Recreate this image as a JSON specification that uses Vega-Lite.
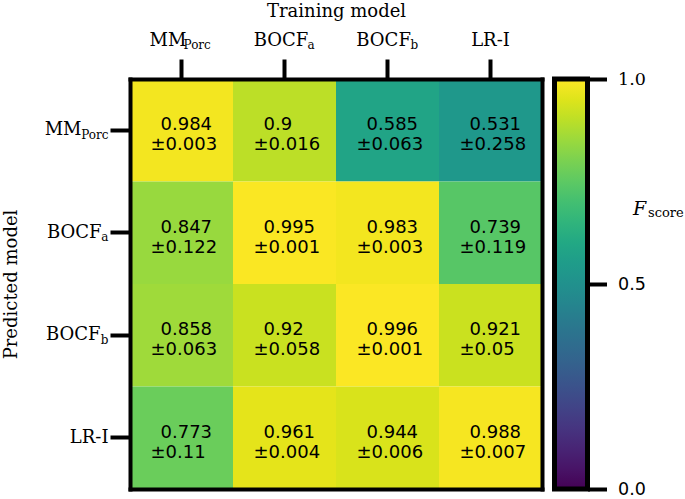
{
  "$schema": "https://vega.github.io/schema/vega-lite/v6.json",
  "background": "white",
  "padding": {"left": 2, "top": 2, "right": 0, "bottom": 0},
  "width": 412,
  "height": 410,
  "data": {
    "values": [
      {"train": "MM_Porc", "pred": "MM_Porc", "f": 0.984, "m": "0.984", "s": "±0.003"},
      {"train": "BOCF_a", "pred": "MM_Porc", "f": 0.9, "m": "0.9", "s": "±0.016"},
      {"train": "BOCF_b", "pred": "MM_Porc", "f": 0.585, "m": "0.585", "s": "±0.063"},
      {"train": "LR-I", "pred": "MM_Porc", "f": 0.531, "m": "0.531", "s": "±0.258"},
      {"train": "MM_Porc", "pred": "BOCF_a", "f": 0.847, "m": "0.847", "s": "±0.122"},
      {"train": "BOCF_a", "pred": "BOCF_a", "f": 0.995, "m": "0.995", "s": "±0.001"},
      {"train": "BOCF_b", "pred": "BOCF_a", "f": 0.983, "m": "0.983", "s": "±0.003"},
      {"train": "LR-I", "pred": "BOCF_a", "f": 0.739, "m": "0.739", "s": "±0.119"},
      {"train": "MM_Porc", "pred": "BOCF_b", "f": 0.858, "m": "0.858", "s": "±0.063"},
      {"train": "BOCF_a", "pred": "BOCF_b", "f": 0.92, "m": "0.92", "s": "±0.058"},
      {"train": "BOCF_b", "pred": "BOCF_b", "f": 0.996, "m": "0.996", "s": "±0.001"},
      {"train": "LR-I", "pred": "BOCF_b", "f": 0.921, "m": "0.921", "s": "±0.05"},
      {"train": "MM_Porc", "pred": "LR-I", "f": 0.773, "m": "0.773", "s": "±0.11"},
      {"train": "BOCF_a", "pred": "LR-I", "f": 0.961, "m": "0.961", "s": "±0.004"},
      {"train": "BOCF_b", "pred": "LR-I", "f": 0.944, "m": "0.944", "s": "±0.006"},
      {"train": "LR-I", "pred": "LR-I", "f": 0.988, "m": "0.988", "s": "±0.007"}
    ]
  },
  "layer": [
    {
      "mark": {"type": "rect"},
      "encoding": {
        "x": {
          "field": "train", "type": "nominal",
          "sort": ["MM_Porc", "BOCF_a", "BOCF_b", "LR-I"],
          "scale": {"paddingInner": 0, "paddingOuter": 0},
          "axis": {
            "orient": "top",
            "title": "Training model",
            "titleFont": "DejaVu Serif", "titleFontSize": 18, "titleFontWeight": "normal", "titleColor": "black",
            "titlePadding": 11,
            "labelExpr": "datum.value == 'MM_Porc' ? 'MM' : (datum.value == 'LR-I' ? 'LR-I' : 'BOCF')",
            "labelFont": "DejaVu Serif", "labelFontSize": 18, "labelColor": "black", "labelAngle": 0,
            "labelPadding": 10,
            "labelOverlap": false, "labelBound": false, "labelFlush": false,
            "labelOffset": {"condition": [
              {"test": "datum.value == 'MM_Porc'", "value": -13.5},
              {"test": "datum.value == 'BOCF_a'", "value": -3.5},
              {"test": "datum.value == 'BOCF_b'", "value": -3.9}
            ], "value": 0},
            "ticks": true, "tickSize": 20, "tickWidth": 4, "tickColor": "black",
            "domain": true, "domainWidth": 4, "domainColor": "black", "domainCap": "square",
            "zindex": 1, "grid": false
          }
        },
        "y": {
          "field": "pred", "type": "nominal",
          "sort": ["MM_Porc", "BOCF_a", "BOCF_b", "LR-I"],
          "scale": {"paddingInner": 0, "paddingOuter": 0},
          "axis": {
            "orient": "left",
            "title": "Predicted model",
            "titleFont": "DejaVu Serif", "titleFontSize": 18, "titleFontWeight": "normal", "titleColor": "black",
            "titlePadding": 24,
            "labelExpr": "datum.value == 'MM_Porc' ? 'MM' : (datum.value == 'LR-I' ? 'LR-I' : 'BOCF')",
            "labelFont": "DejaVu Serif", "labelFontSize": 18, "labelColor": "black",
            "labelOverlap": false, "labelBound": false,
            "labelPadding": {"condition": [
              {"test": "datum.value == 'MM_Porc'", "value": 29},
              {"test": "datum.value == 'BOCF_a'", "value": 9},
              {"test": "datum.value == 'BOCF_b'", "value": 10}
            ], "value": 2},
            "ticks": true, "tickSize": 20, "tickWidth": 4, "tickColor": "black",
            "domain": true, "domainWidth": 4, "domainColor": "black", "domainCap": "square",
            "zindex": 1, "grid": false
          }
        },
        "color": {
          "field": "f", "type": "quantitative",
          "scale": {"scheme": "viridis", "domain": [0, 1]},
          "legend": {
            "orient": "none", "legendX": 424.5, "legendY": 0, "padding": 0,
            "title": null, "labels": false, "labelOpacity": 0, "labelFontSize": 1,
            "gradientLength": 410, "gradientThickness": 33,
            "gradientStrokeColor": "black", "gradientStrokeWidth": 5
          }
        }
      }
    },
    {
      "mark": {"type": "text", "align": "left", "baseline": "alphabetic", "dx": -21, "dy": 0, "font": "DejaVu Sans", "fontSize": 18, "color": "black"},
      "encoding": {
        "x": {
          "field": "train", "type": "nominal",
          "sort": ["MM_Porc", "BOCF_a", "BOCF_b", "LR-I"],
          "scale": {"paddingInner": 0, "paddingOuter": 0},
          "axis": {
            "orient": "top", "title": null,
            "labelExpr": "datum.value == 'MM_Porc' ? 'Porc' : (datum.value == 'BOCF_a' ? 'a' : (datum.value == 'BOCF_b' ? 'b' : ''))",
            "labelFont": "DejaVu Serif", "labelFontSize": 12, "labelColor": "black", "labelAngle": 0,
            "labelPadding": 7.5,
            "labelOverlap": false, "labelBound": false, "labelFlush": false,
            "labelOffset": {"condition": [
              {"test": "datum.value == 'MM_Porc'", "value": 15.7},
              {"test": "datum.value == 'BOCF_a'", "value": 26.5},
              {"test": "datum.value == 'BOCF_b'", "value": 26.9}
            ], "value": 0},
            "ticks": true, "tickSize": 20, "tickOpacity": 0,
            "domain": false, "grid": false
          }
        },
        "y": {
          "field": "pred", "type": "nominal",
          "sort": ["MM_Porc", "BOCF_a", "BOCF_b", "LR-I"],
          "scale": {"paddingInner": 0, "paddingOuter": 0},
          "axis": {
            "orient": "left", "title": null,
            "labelExpr": "datum.value == 'MM_Porc' ? 'Porc' : (datum.value == 'BOCF_a' ? 'a' : (datum.value == 'BOCF_b' ? 'b' : ''))",
            "labelFont": "DejaVu Serif", "labelFontSize": 12, "labelColor": "black",
            "labelPadding": 2, "labelOffset": 4,
            "labelOverlap": false, "labelBound": false,
            "ticks": true, "tickSize": 20, "tickOpacity": 0,
            "domain": false, "grid": false
          }
        },
        "text": {"field": "m"}
      }
    },
    {
      "mark": {"type": "text", "align": "left", "baseline": "alphabetic", "dx": -31, "dy": 20, "font": "DejaVu Sans", "fontSize": 18, "color": "black"},
      "encoding": {
        "x": {
          "field": "train", "type": "nominal", "sort": ["MM_Porc", "BOCF_a", "BOCF_b", "LR-I"],
          "scale": {"paddingInner": 0, "paddingOuter": 0},
          "axis": {
            "orient": "bottom", "title": null, "labels": false, "ticks": false, "grid": false,
            "domain": true, "domainWidth": 4, "domainColor": "black", "domainCap": "square", "zindex": 1
          }
        },
        "y": {
          "field": "pred", "type": "nominal", "sort": ["MM_Porc", "BOCF_a", "BOCF_b", "LR-I"],
          "scale": {"paddingInner": 0, "paddingOuter": 0},
          "axis": {
            "orient": "right", "title": null, "labels": false, "ticks": false, "grid": false,
            "domain": true, "domainWidth": 4, "domainColor": "black", "domainCap": "square", "zindex": 1
          }
        },
        "text": {"field": "s"}
      }
    },
    {
      "data": {"values": [{"lo": 0}]},
      "mark": {"type": "rule", "opacity": 0},
      "encoding": {
        "y": {
          "field": "lo", "type": "quantitative",
          "scale": {"domain": [0, 1], "nice": false, "zero": false},
          "axis": {
            "orient": "right", "offset": 45.5,
            "values": [0, 0.5, 1], "format": ".1f",
            "labelFont": {"condition": {"test": "datum.value == 1", "value": "DejaVu Serif"}, "value": "DejaVu Sans"},
            "labelFontSize": 17.5, "labelColor": "black", "labelPadding": 11,
            "labelBaseline": "middle", "labelFlush": false, "labelBound": false, "labelOverlap": false,
            "ticks": true, "tickSize": 19, "tickWidth": 4, "tickColor": "black",
            "domain": false, "grid": false,
            "title": "F",
            "titleFont": "DejaVu Serif", "titleFontStyle": "italic", "titleFontWeight": "normal", "titleFontSize": 19,
            "titleColor": "black", "titleAngle": 0, "titleAlign": "left", "titleBaseline": "alphabetic",
            "titleX": 45, "titleY": 135
          }
        }
      }
    },
    {
      "data": {"values": [{"lo": 0}]},
      "mark": {"type": "rule", "opacity": 0},
      "encoding": {
        "y": {
          "field": "lo", "type": "quantitative",
          "scale": {"domain": [0, 1], "nice": false, "zero": false},
          "axis": {
            "orient": "right", "offset": 45.5,
            "labels": false, "ticks": false, "domain": false, "grid": false,
            "title": "score",
            "titleFont": "DejaVu Serif", "titleFontWeight": "normal", "titleFontSize": 13,
            "titleColor": "black", "titleAngle": 0, "titleAlign": "left", "titleBaseline": "alphabetic",
            "titleX": 60, "titleY": 137
          }
        }
      }
    }
  ],
  "resolve": {
    "scale": {"y": "independent"},
    "axis": {"x": "independent", "y": "independent"}
  },
  "config": {
    "view": {"stroke": null},
    "axis": {"labelColor": "black", "titleColor": "black"}
  }
}
